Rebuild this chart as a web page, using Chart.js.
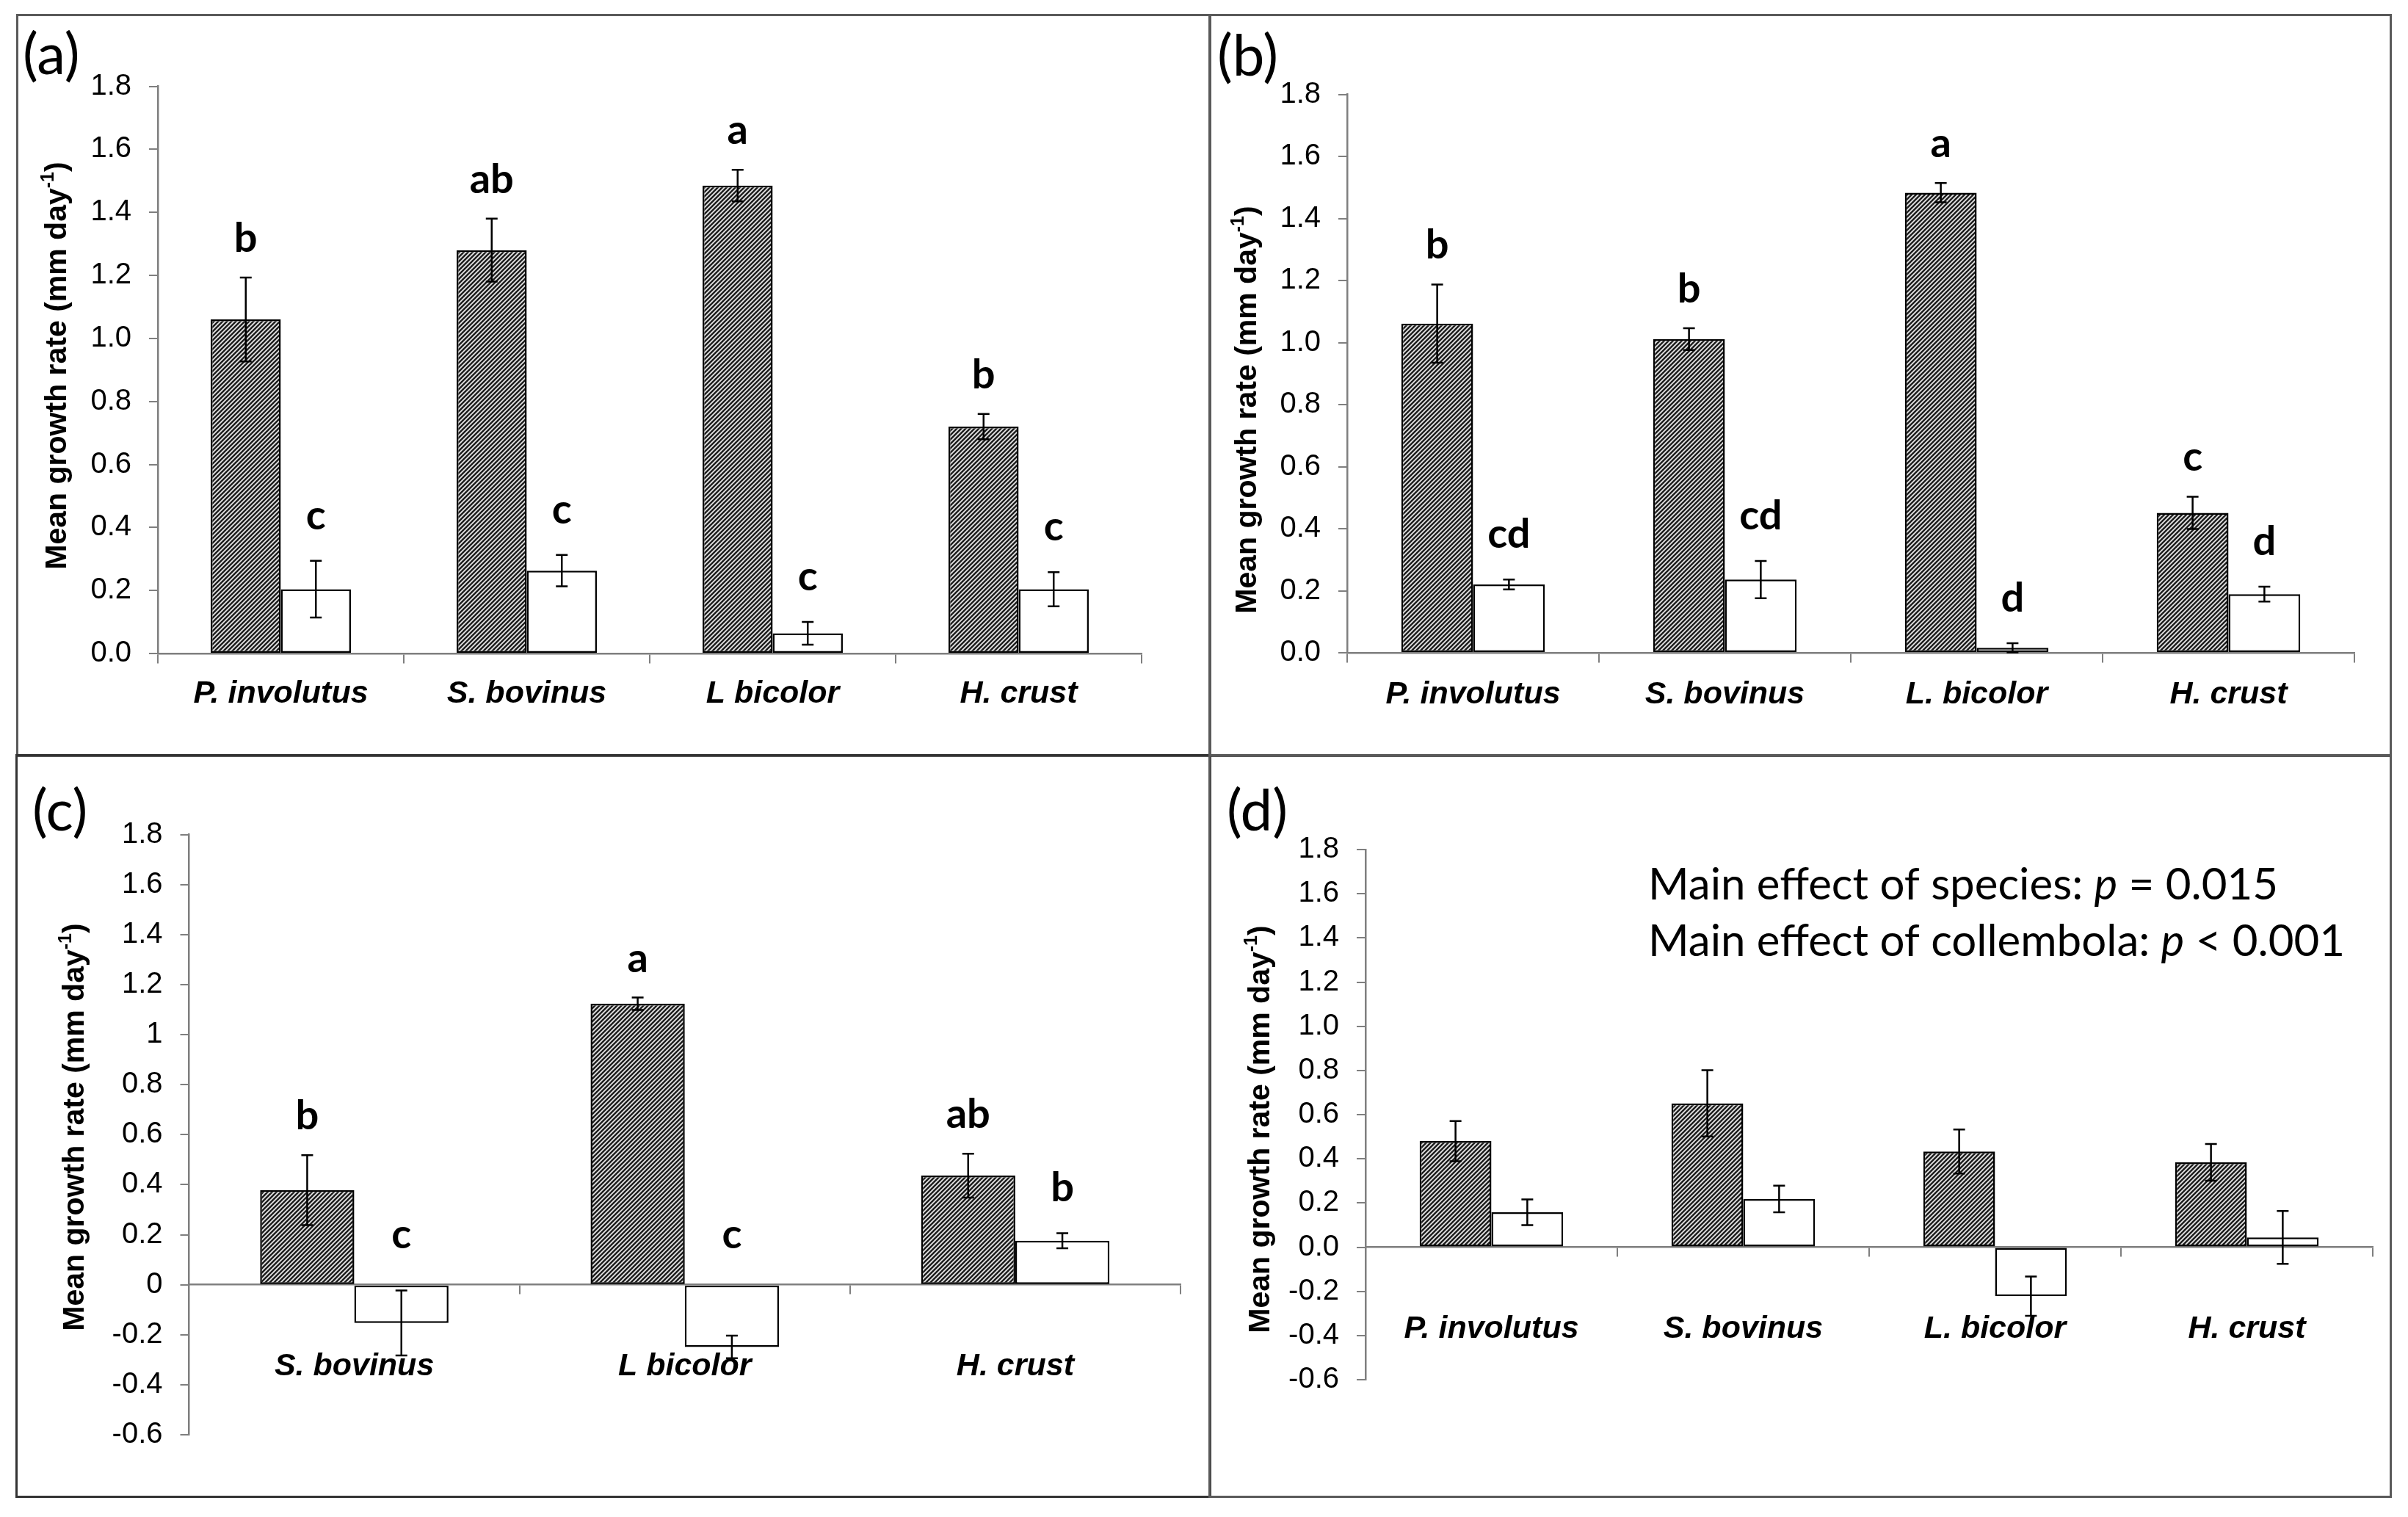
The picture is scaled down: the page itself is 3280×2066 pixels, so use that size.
<!DOCTYPE html>
<html>
<head>
<meta charset="utf-8">
<script src="https://cdn.jsdelivr.net/npm/chart.js@4.4.1/dist/chart.umd.min.js"></script>
<style>
  html, body { margin: 0; padding: 0; background: #fff; }
  body { width: 3280px; height: 2066px; position: relative; overflow: hidden; }
  .frame { position: absolute; border: 3px solid #5a5a5a; box-sizing: border-box; }
  canvas { position: absolute; }
</style>
</head>
<body>
<div class="frame" style="left:22px;top:19px;width:1628px;height:1012px"></div>
<div class="frame" style="left:1646px;top:19px;width:1612px;height:1012px"></div>
<div class="frame" style="left:21px;top:1027px;width:1629px;height:1013px;border-color:#333"></div>
<div class="frame" style="left:1646px;top:1027px;width:1612px;height:1013px"></div>
<canvas id="chartA"></canvas>
<canvas id="chartB"></canvas>
<canvas id="chartC"></canvas>
<canvas id="chartD"></canvas>
<script>
// ---- data ----
const catsA = ['P. involutus', 'S. bovinus', 'L bicolor', 'H. crust'];
const catsB = ['P. involutus', 'S. bovinus', 'L. bicolor', 'H. crust'];
const catsC = ['S. bovinus', 'L bicolor', 'H. crust'];
const catsD = ['P. involutus', 'S. bovinus', 'L. bicolor', 'H. crust'];

const hatchedA = [1.06, 1.28, 1.485, 0.72];
const hatchedErrA = [0.133, 0.10, 0.05, 0.04];
const openA = [0.204, 0.263, 0.064, 0.204];
const openErrA = [0.09, 0.05, 0.036, 0.054];
const hatchedLettersA = ['b', 'ab', 'a', 'b'];
const openLettersA = ['c', 'c', 'c', 'c'];

const hatchedB = [1.061, 1.011, 1.483, 0.451];
const hatchedErrB = [0.126, 0.035, 0.031, 0.052];
const openB = [0.220, 0.236, 0.016, 0.189];
const openErrB = [0.016, 0.06, 0.015, 0.024];
const hatchedLettersB = ['b', 'b', 'a', 'c'];
const openLettersB = ['cd', 'cd', 'd', 'd'];

const hatchedC = [0.378, 1.123, 0.436];
const hatchedErrC = [0.14, 0.025, 0.088];
const openC = [-0.153, -0.249, 0.176];
const openErrC = [0.13, 0.045, 0.03];
const hatchedLettersC = ['b', 'a', 'ab'];
const openLettersC = ['c', 'c', 'b'];

const hatchedD = [0.48, 0.651, 0.433, 0.384];
const hatchedErrD = [0.091, 0.15, 0.10, 0.083];
const openD = [0.158, 0.218, -0.222, 0.044];
const openErrD = [0.058, 0.06, 0.089, 0.12];

const ticksPos = [0, 0.2, 0.4, 0.6, 0.8, 1.0, 1.2, 1.4, 1.6, 1.8];
const tickLabelsPos = ['0.0', '0.2', '0.4', '0.6', '0.8', '1.0', '1.2', '1.4', '1.6', '1.8'];
const ticksNeg = [-0.6, -0.4, -0.2, 0, 0.2, 0.4, 0.6, 0.8, 1.0, 1.2, 1.4, 1.6, 1.8];
const tickLabelsC = ['-0.6', '-0.4', '-0.2', '0', '0.2', '0.4', '0.6', '0.8', '1', '1.2', '1.4', '1.6', '1.8'];
const tickLabelsD = ['-0.6', '-0.4', '-0.2', '0.0', '0.2', '0.4', '0.6', '0.8', '1.0', '1.2', '1.4', '1.6', '1.8'];

const yTitleMain = 'Mean growth rate (mm day';
const yTitleSup = '-1';
const notesD = [
  ['Main effect of species: ', 'p', ' = 0.015'],
  ['Main effect of collembola: ', 'p', ' < 0.001']
];

// ---- layout of the four panels (page pixels) ----
const panels = [
  { id: 'chartA', left: 24, top: 21, w: 1624, h: 1008, pad: { left: 41, right: 93, top: 96.5, bottom: 139 },
    cats: catsA, hatched: hatchedA, hatchedErr: hatchedErrA, open: openA, openErr: openErrA,
    hatchedLetters: hatchedLettersA, openLetters: openLettersA,
    ticks: ticksPos, tickLabels: tickLabelsPos, min: 0, xPad: 17,
    label: '(a)', labelX: 7, labelY: 80, titleX: 55, titleY: 477 },
  { id: 'chartB', left: 1648, top: 21, w: 1608, h: 1008, pad: { left: 37, right: 49, top: 107.5, bottom: 140 },
    cats: catsB, hatched: hatchedB, hatchedErr: hatchedErrB, open: openB, openErr: openErrB,
    hatchedLetters: hatchedLettersB, openLetters: openLettersB,
    ticks: ticksPos, tickLabels: tickLabelsPos, min: 0, xPad: 19,
    label: '(b)', labelX: 10, labelY: 82, titleX: 52, titleY: 537 },
  { id: 'chartC', left: 23, top: 1029, w: 1625, h: 1009, pad: { left: 84.5, right: 40, top: 107.5, bottom: 84 },
    cats: catsC, hatched: hatchedC, hatchedErr: hatchedErrC, open: openC, openErr: openErrC,
    hatchedLetters: hatchedLettersC, openLetters: openLettersC,
    ticks: ticksNeg, tickLabels: tickLabelsC, min: -0.6, xPad: 74,
    label: '(c)', labelX: 21, labelY: 102, titleX: 80, titleY: 506 },
  { id: 'chartD', left: 1648, top: 1029, w: 1608, h: 1009, pad: { left: 62, right: 24, top: 128, bottom: 159 },
    cats: catsD, hatched: hatchedD, hatchedErr: hatchedErrD, open: openD, openErr: openErrD,
    hatchedLetters: null, openLetters: null,
    ticks: ticksNeg, tickLabels: tickLabelsD, min: -0.6, xPad: 74,
    label: '(d)', labelX: 23, labelY: 102, titleX: 70, titleY: 509,
    notes: notesD, notesX: 597, notesY: [196, 273] }
];

const AXIS_GREY = '#7f7f7f';
const SANS = '"Liberation Sans", Arial, sans-serif';
const CAL = 'Lato, "Open Sans", sans-serif';

function hatchPattern(ctx) {
  const c = document.createElement('canvas');
  c.width = 6; c.height = 6;
  const g = c.getContext('2d');
  g.fillStyle = '#e4e4e4';
  g.fillRect(0, 0, 6, 6);
  g.strokeStyle = '#1c1c1c';
  g.lineWidth = 2.4;
  g.beginPath();
  g.moveTo(-1, 7); g.lineTo(7, -1);
  g.moveTo(-1, 1); g.lineTo(1, -1);
  g.moveTo(5, 7); g.lineTo(7, 5);
  g.stroke();
  return ctx.createPattern(c, 'repeat');
}

// error bars + significance letters
const barExtras = {
  id: 'barExtras',
  afterDatasetsDraw(chart) {
    const ctx = chart.ctx, y = chart.scales.y;
    chart.data.datasets.forEach((ds, di) => {
      const meta = chart.getDatasetMeta(di);
      meta.data.forEach((bar, i) => {
        const v = ds.data[i], e = ds.errors[i];
        const yt = y.getPixelForValue(v + e), yb = y.getPixelForValue(v - e);
        ctx.save();
        ctx.strokeStyle = '#000';
        ctx.lineWidth = 2.5;
        ctx.beginPath();
        ctx.moveTo(bar.x, yt); ctx.lineTo(bar.x, yb);
        ctx.moveTo(bar.x - 8, yt); ctx.lineTo(bar.x + 8, yt);
        ctx.moveTo(bar.x - 8, yb); ctx.lineTo(bar.x + 8, yb);
        ctx.stroke();
        if (ds.letters) {
          const top = v + e;
          let py, gap;
          if (top > 0) { py = y.getPixelForValue(top); gap = di === 0 ? 35 : 43; }
          else { py = y.getPixelForValue(0); gap = 50; }
          ctx.fillStyle = '#000';
          ctx.font = 'bold 56px ' + CAL;
          ctx.textAlign = 'center';
          ctx.textBaseline = 'alphabetic';
          ctx.fillText(ds.letters[i], bar.x, py - gap);
        }
        ctx.restore();
      });
    });
  }
};

// panel letter, rotated y title, notes
const panelText = {
  id: 'panelText',
  afterDraw(chart, args, o) {
    const ctx = chart.ctx;
    ctx.save();
    ctx.fillStyle = '#000';
    ctx.textBaseline = 'alphabetic';
    ctx.textAlign = 'left';
    ctx.font = '78px ' + CAL;
    ctx.fillText(o.label, o.labelX, o.labelY);

    ctx.save();
    ctx.translate(o.titleX, o.titleY);
    ctx.rotate(-Math.PI / 2);
    ctx.textBaseline = 'middle';
    const big = 'bold 41px ' + SANS, small = 'bold 25px ' + SANS;
    const parts = [[yTitleMain, big, 0], [yTitleSup, small, -13], [')', big, 0]];
    let total = 0;
    parts.forEach(p => { ctx.font = p[1]; p.push(ctx.measureText(p[0]).width); total += p[3]; });
    let cx = -total / 2;
    parts.forEach(p => { ctx.font = p[1]; ctx.fillText(p[0], cx, p[2]); cx += p[3]; });
    ctx.restore();

    if (o.notes) {
      o.notes.forEach((line, li) => {
        let x = o.notesX;
        line.forEach((seg, si) => {
          ctx.font = (si === 1 ? 'italic ' : '') + '60px ' + CAL;
          ctx.fillText(seg, x, o.notesY[li]);
          x += ctx.measureText(seg).width;
        });
      });
    }
    ctx.restore();
  }
};

function build(p) {
  const cv = document.getElementById(p.id);
  cv.width = p.w; cv.height = p.h;
  cv.style.left = p.left + 'px'; cv.style.top = p.top + 'px';
  cv.style.width = p.w + 'px'; cv.style.height = p.h + 'px';
  const ctx = cv.getContext('2d');
  const barStyle = { borderColor: '#000', borderWidth: 2.5, borderSkipped: false,
    categoryPercentage: 0.57, barPercentage: 1.0 };
  new Chart(ctx, {
    type: 'bar',
    data: {
      labels: p.cats,
      datasets: [
        Object.assign({ label: 'Hatched', data: p.hatched, errors: p.hatchedErr, letters: p.hatchedLetters,
          backgroundColor: hatchPattern(ctx) }, barStyle),
        Object.assign({ label: 'Open', data: p.open, errors: p.openErr, letters: p.openLetters,
          backgroundColor: '#fff' }, barStyle)
      ]
    },
    options: {
      responsive: false,
      animation: false,
      devicePixelRatio: 1,
      events: [],
      layout: { padding: p.pad },
      plugins: {
        legend: { display: false },
        tooltip: { enabled: false },
        panelText: { label: p.label, labelX: p.labelX, labelY: p.labelY, titleX: p.titleX, titleY: p.titleY,
          notes: p.notes || null, notesX: p.notesX, notesY: p.notesY }
      },
      scales: {
        x: {
          type: 'category',
          position: { y: 0 },
          offset: true,
          grid: { offset: true, drawOnChartArea: false, drawTicks: true, tickLength: 12, color: AXIS_GREY, lineWidth: 2 },
          border: { display: true, color: AXIS_GREY, width: 2.5 },
          ticks: { color: '#000', font: { family: SANS, size: 43, style: 'italic', weight: 'bold' },
            padding: p.xPad, autoSkip: false, maxRotation: 0 }
        },
        y: {
          min: p.min,
          max: 1.8,
          afterFit(s) { s.width = 150; },
          afterBuildTicks(s) { s.ticks = p.ticks.map(v => ({ value: v })); },
          grid: { drawOnChartArea: false, drawTicks: true, tickLength: 12, color: AXIS_GREY, lineWidth: 2 },
          border: { display: true, color: AXIS_GREY, width: 2.5 },
          ticks: { color: '#000', font: { family: SANS, size: 40 }, padding: 24, autoSkip: false,
            callback: (v, i) => p.tickLabels[i] }
        }
      }
    },
    plugins: [barExtras, panelText]
  });
}

window.addEventListener('load', () => { panels.forEach(build); });
</script>
</body>
</html>
